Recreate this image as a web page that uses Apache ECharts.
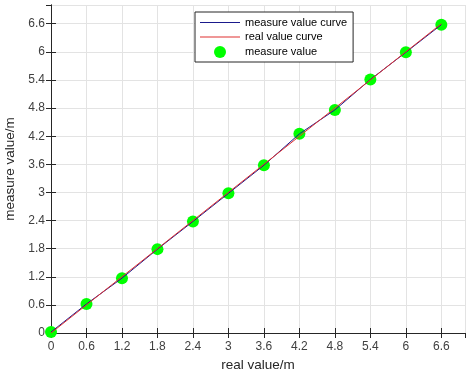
<!DOCTYPE html>
<html>
<head>
<meta charset="utf-8">
<script src="https://cdn.jsdelivr.net/npm/echarts@6/dist/echarts.min.js"></script>
<style>
  html, body { margin: 0; padding: 0; background: #fff; }
  #main { width: 466px; height: 376px; }
</style>
</head>
<body>
<div id="main"></div>
<script>
// real positions (m) and what the sensor read back
const realValues = [0, 0.6, 1.2, 1.8, 2.4, 3, 3.6, 4.2, 4.8, 5.4, 6, 6.6];
const measureValues = [0.02, 0.62, 1.17, 1.79, 2.38, 2.98, 3.58, 4.25, 4.76, 5.41, 5.99, 6.58];
const seriesNames = ["measure value curve", "real value curve", "measure value"];

const axisColor = "#262626";
const gridColor = "#e3e3e3";
const fontFamily = "'Liberation Sans', Arial, Helvetica, sans-serif";
const lineIcon = "path://M0,0H40V1H0Z";

const measurePairs = realValues.map((x, i) => [x, measureValues[i]]);
const realPairs = realValues.map((x) => [x, x]);

const baseAxis = {
  type: "value",
  min: 0,
  max: 7,
  interval: 0.6,
  axisLine: { show: true, lineStyle: { color: axisColor, width: 1 } },
  axisTick: { show: true, inside: true, length: 5, lineStyle: { color: axisColor } },
};

const chart = echarts.init(document.getElementById("main"));
chart.setOption({
  animation: false,
  backgroundColor: "#fff",
  textStyle: { fontFamily: fontFamily },
  grid: { left: 51, right: 1, top: 5, bottom: 43, outerBoundsMode: "none" },
  legend: {
    orient: "vertical",
    left: 195,
    top: 12,
    padding: [5, 6, 4, 5],
    itemWidth: 40,
    itemHeight: 12,
    itemGap: 3.5,
    backgroundColor: "#fff",
    borderColor: axisColor,
    borderWidth: 1,
    textStyle: { fontSize: 11, color: "#000", fontFamily: fontFamily },
    data: [
      { name: seriesNames[0], icon: lineIcon },
      { name: seriesNames[1], icon: lineIcon },
      { name: seriesNames[2], icon: "circle" },
    ],
  },
  xAxis: [
    {
      ...baseAxis,
      position: "bottom",
      name: "real value/m",
      nameLocation: "middle",
      nameGap: 23,
      nameTextStyle: { fontSize: 13.5, color: axisColor },
      axisLabel: { color: "#404040", fontSize: 12, margin: 8, showMaxLabel: false },
      splitLine: { show: true, lineStyle: { color: gridColor } },
    },
    {
      ...baseAxis,
      position: "top",
      axisLabel: { show: false },
      splitLine: { show: false },
    },
  ],
  yAxis: [
    {
      ...baseAxis,
      position: "left",
      name: "measure value/m",
      nameLocation: "middle",
      nameGap: 25,
      nameTextStyle: { fontSize: 13.5, color: axisColor },
      axisLabel: { color: "#404040", fontSize: 12, margin: 6, showMaxLabel: false },
      splitLine: { show: true, lineStyle: { color: gridColor } },
    },
    {
      ...baseAxis,
      position: "right",
      axisLabel: { show: false },
      splitLine: { show: false },
    },
  ],
  series: [
    {
      name: seriesNames[0],
      type: "line",
      data: measurePairs,
      symbol: "none",
      itemStyle: { color: "#1a1a8c" },
      lineStyle: { color: "#1a1a8c", width: 1 },
    },
    {
      name: seriesNames[1],
      type: "line",
      data: realPairs,
      symbol: "none",
      itemStyle: { color: "#e03030" },
      lineStyle: { color: "#e03030", width: 1 },
    },
    {
      name: seriesNames[2],
      type: "scatter",
      data: measurePairs,
      symbol: "circle",
      symbolSize: 12,
      itemStyle: { color: "#00ff00", opacity: 1 },
    },
  ],
});
</script>
</body>
</html>
